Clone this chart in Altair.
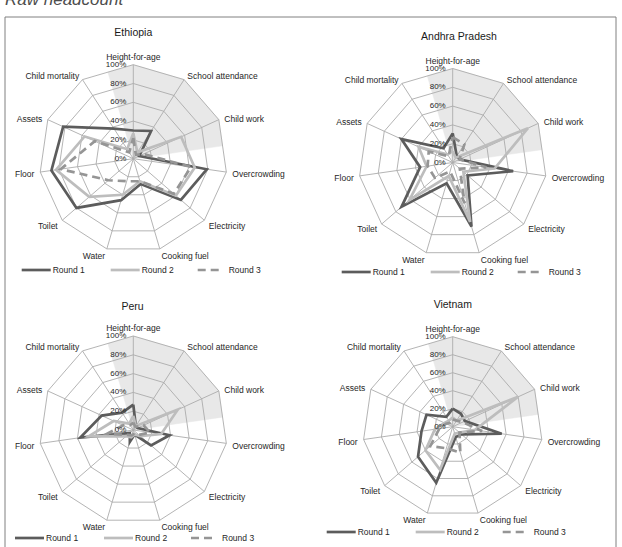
import math
import altair as alt
import pandas as pd

# ---------------- data ----------------
DIMENSIONS = ["Height-for-age", "School attendance", "Child work", "Overcrowding",
              "Electricity", "Cooking fuel", "Water", "Toilet", "Floor", "Assets",
              "Child mortality"]
PANELS = ["Ethiopia", "Andhra Pradesh", "Peru", "Vietnam"]
ROUNDS = ["Round 1", "Round 2", "Round 3"]
TICK_VALUES = [0, 20, 40, 60, 80, 100]
TICK_LABELS = ["0%", "20%", "40%", "60%", "80%", "100%"]
MAIN_TITLE = "Raw headcount"

ETHIOPIA_R1 = [30, 35, 7, 79, 67, 28, 46, 80, 88, 82, 38]
ETHIOPIA_R2 = [27, 8, 56, 66, 60, 25, 40, 62, 83, 57, 12]
ETHIOPIA_R3 = [22, 5, 12, 62, 57, 25, 25, 35, 78, 45, 8]

ANDHRA_R1 = [31, 8, 8, 65, 21, 71, 23, 72, 35, 60, 18]
ANDHRA_R2 = [12, 6, 88, 45, 15, 66, 15, 61, 28, 40, 10]
ANDHRA_R3 = [27, 23, 8, 36, 10, 45, 10, 25, 27, 28, 8]

PERU_R1 = [27, 5, 5, 39, 25, 5, 13, 5, 57, 37, 22]
PERU_R2 = [15, 5, 52, 30, 10, 5, 8, 10, 48, 23, 8]
PERU_R3 = [8, 4, 12, 18, 8, 4, 6, 8, 28, 12, 6]

VIETNAM_R1 = [20, 17, 15, 55, 13, 12, 65, 51, 35, 32, 13]
VIETNAM_R2 = [10, 8, 80, 25, 10, 8, 50, 40, 20, 10, 8]
VIETNAM_R3 = [8, 8, 12, 33, 10, 30, 25, 33, 15, 8, 5]

VALUES = {
    "Ethiopia": [ETHIOPIA_R1, ETHIOPIA_R2, ETHIOPIA_R3],
    "Andhra Pradesh": [ANDHRA_R1, ANDHRA_R2, ANDHRA_R3],
    "Peru": [PERU_R1, PERU_R2, PERU_R3],
    "Vietnam": [VIETNAM_R1, VIETNAM_R2, VIETNAM_R3],
}

# ---------------- layout ----------------
W, H = 622, 547
CENTERS = {"Ethiopia": (133.3, 158.7), "Andhra Pradesh": (452.7, 162.5),
           "Peru": (133.3, 430.0), "Vietnam": (452.7, 426.7)}
RADII = {"Ethiopia": 94, "Andhra Pradesh": 94, "Peru": 94, "Vietnam": 90}
TITLE_POS = {"Ethiopia": (133.3, 33), "Andhra Pradesh": (459, 37),
             "Peru": (132.5, 307), "Vietnam": (452.8, 305)}
LEGEND_POS = {"Ethiopia": (21.7, 270), "Andhra Pradesh": (341.7, 272),
              "Peru": (15, 538), "Vietnam": (326.7, 532)}
LEG_LINE = [(0, 29), (89, 118), (176, 200)]
LEG_TEXT = [31, 120, 207]

FONT = "Liberation Sans"
TEXT = "#262626"
GRID = "#ababab"
SHADE = "#e8e8e8"
ROUND_COLORS = ["#5c5c5c", "#bdbdbd", "#959595"]
ROUND_WIDTH = [2.7, 2.7, 2.7]
ROUND_DASH = [None, None, [8, 5]]

N = len(DIMENSIONS)


def at_angle(panel, a, frac):
    cx, cy = CENTERS[panel]
    r = RADII[panel] * frac
    return cx + r * math.sin(a), cy - r * math.cos(a)


def polar(panel, i, frac):
    return at_angle(panel, 2 * math.pi * i / N, frac)


def X(f="x"):
    return alt.X(f"{f}:Q", scale=alt.Scale(domain=[0, W], nice=False, zero=False), axis=None)


def Y(f="y"):
    return alt.Y(f"{f}:Q", scale=alt.Scale(domain=[0, H], nice=False, zero=False, reverse=True),
                 axis=None)


layers = []

# shaded wedge (closed, filled polygon)
half = math.pi / N
inner = math.cos(half)
shade_rows = []
for p in PANELS:
    cx, cy = CENTERS[p]
    pts = [(cx, cy), at_angle(p, -half, inner), polar(p, 0, 1), polar(p, 1, 1),
           polar(p, 2, 1), at_angle(p, 5 * half, inner)]
    for k, (x, y) in enumerate(pts):
        shade_rows.append({"panel": p, "k": k, "x": x, "y": y})
layers.append(alt.Chart(pd.DataFrame(shade_rows)).mark_line(
    interpolate="linear-closed", fill=SHADE, stroke=SHADE, strokeWidth=0.5,
    fillOpacity=1).encode(
    x=X(), y=Y(), detail="panel:N", order="k:Q"))

# grid rings
ring_rows = []
for p in PANELS:
    for t in TICK_VALUES[1:]:
        for k in range(N + 1):
            x, y = polar(p, k % N, t / 100)
            ring_rows.append({"ring": f"{p}-{t}", "k": k, "x": x, "y": y})
layers.append(alt.Chart(pd.DataFrame(ring_rows)).mark_line(color=GRID, strokeWidth=0.9).encode(
    x=X(), y=Y(), detail="ring:N", order="k:Q"))

# spokes
spoke_rows = []
for p in PANELS:
    cx, cy = CENTERS[p]
    for i in range(N):
        x2, y2 = polar(p, i, 1)
        spoke_rows.append({"x": cx, "y": cy, "x2": x2, "y2": y2})
layers.append(alt.Chart(pd.DataFrame(spoke_rows)).mark_rule(color=GRID, strokeWidth=0.9).encode(
    x=X(), y=Y(), x2="x2:Q", y2="y2:Q"))

# series
for ri, rnd in enumerate(ROUNDS):
    rows = []
    for p in PANELS:
        vals = VALUES[p][ri]
        for k in range(N + 1):
            x, y = polar(p, k % N, vals[k % N] / 100)
            rows.append({"panel": p, "k": k, "x": x, "y": y})
    kw = dict(color=ROUND_COLORS[ri], strokeWidth=ROUND_WIDTH[ri], strokeJoin="miter")
    if ROUND_DASH[ri]:
        kw["strokeDash"] = ROUND_DASH[ri]
    layers.append(alt.Chart(pd.DataFrame(rows)).mark_line(**kw).encode(
        x=X(), y=Y(), detail="panel:N", order="k:Q"))

# dimension labels
lab_rows = []
for p in PANELS:
    cx, cy = CENTERS[p]
    R = RADII[p]
    for i, name in enumerate(DIMENSIONS):
        if i == 0:
            x, y, al = cx, cy - R - 8, "center"
        else:
            x, y = polar(p, i, (R + 6) / R)
            y += 1.5
            al = "left" if i <= 5 else "right"
        lab_rows.append({"label": name, "x": x, "y": y, "align": al})
lab_df = pd.DataFrame(lab_rows)
for al in ["left", "center", "right"]:
    layers.append(alt.Chart(lab_df[lab_df["align"] == al]).mark_text(
        align=al, baseline="middle", fontSize=8.5, font=FONT, color=TEXT).encode(
        x=X(), y=Y(), text="label:N"))

# tick labels
tick_rows = []
for p in PANELS:
    cx, cy = CENTERS[p]
    for v, lab in zip(TICK_VALUES, TICK_LABELS):
        x, y = polar(p, 0, v / 100)
        tick_rows.append({"label": lab, "x": cx - 7, "y": y})
layers.append(alt.Chart(pd.DataFrame(tick_rows)).mark_text(
    align="right", baseline="middle", fontSize=8, font=FONT, color=TEXT).encode(
    x=X(), y=Y(), text="label:N"))

# panel titles
title_df = pd.DataFrame([{"label": p, "x": TITLE_POS[p][0], "y": TITLE_POS[p][1]} for p in PANELS])
layers.append(alt.Chart(title_df).mark_text(
    align="center", baseline="middle", fontSize=10.5, font=FONT, color="#1a1a1a").encode(
    x=X(), y=Y(), text="label:N"))

# legends
for ri, rnd in enumerate(ROUNDS):
    lrows, trows = [], []
    for p in PANELS:
        x0, ly = LEGEND_POS[p]
        lrows.append({"x": x0 + LEG_LINE[ri][0], "x2": x0 + LEG_LINE[ri][1], "y": ly})
        trows.append({"label": rnd, "x": x0 + LEG_TEXT[ri], "y": ly})
    kw = dict(color=ROUND_COLORS[ri], strokeWidth=ROUND_WIDTH[ri])
    if ROUND_DASH[ri]:
        kw["strokeDash"] = ROUND_DASH[ri]
    layers.append(alt.Chart(pd.DataFrame(lrows)).mark_rule(**kw).encode(
        x=X(), x2="x2:Q", y=Y()))
    layers.append(alt.Chart(pd.DataFrame(trows)).mark_text(
        align="left", baseline="middle", fontSize=8.5, font=FONT, color=TEXT).encode(
        x=X(), y=Y(), text="label:N"))

# frame (top, left, right)
frame_df = pd.DataFrame([
    {"x": 5, "x2": 616, "y": 17, "y2": 17},
    {"x": 5, "x2": 5, "y": 17, "y2": H},
    {"x": 616, "x2": 616, "y": 17, "y2": H},
])
layers.append(alt.Chart(frame_df).mark_rule(color="#808080", strokeWidth=1).encode(
    x=X(), y=Y(), x2="x2:Q", y2="y2:Q"))

# main title (cut off at top)
mt_df = pd.DataFrame([{"label": MAIN_TITLE, "x": 5, "y": 5}])
layers.append(alt.Chart(mt_df).mark_text(
    align="left", baseline="alphabetic", fontSize=17, font=FONT, fontStyle="italic",
    color="#4d4d4d").encode(x=X(), y=Y(), text="label:N"))

chart = alt.layer(*layers).properties(
    width=W, height=H, padding=0,
    autosize=alt.AutoSizeParams(type="none"),
    background="white",
).configure_view(stroke=None)

chart.save("out.html", embed_options={"renderer": "svg", "actions": False})
